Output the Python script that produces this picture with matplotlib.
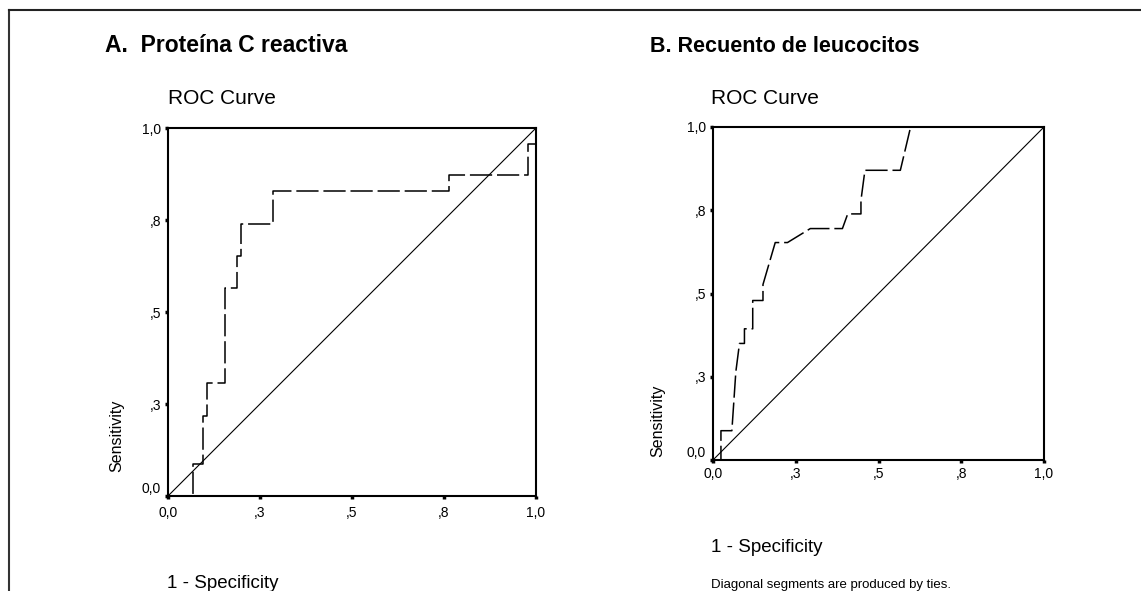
import matplotlib

matplotlib.use("Agg")
import matplotlib.pyplot as plt
from matplotlib.lines import Line2D

plt.rcParams["font.family"] = ["Liberation Sans", "DejaVu Sans"]
plt.rcParams["lines.scale_dashes"] = False

W, H = 1141, 591

# ROC curve A: Proteina C reactiva (1 - specificity, sensitivity)
fpr_a = [0.0, 0.069, 0.069, 0.095, 0.095, 0.107, 0.107, 0.155, 0.155, 0.188,
         0.188, 0.198, 0.198, 0.284, 0.284, 0.764, 0.764, 0.977, 0.977, 1.0, 1.0]
tpr_a = [0.0, 0.0, 0.088, 0.088, 0.217, 0.217, 0.306, 0.306, 0.564, 0.564,
         0.652, 0.652, 0.739, 0.739, 0.828, 0.828, 0.871, 0.871, 0.956, 0.956, 1.0]

# ROC curve B: Recuento de leucocitos
fpr_b = [0.0, 0.024, 0.024, 0.057, 0.069, 0.080, 0.095, 0.095, 0.120, 0.120,
         0.151, 0.151, 0.188, 0.225, 0.294, 0.391, 0.407, 0.447, 0.447, 0.459,
         0.566, 0.597, 1.0]
tpr_b = [0.0, 0.0, 0.088, 0.088, 0.265, 0.350, 0.350, 0.394, 0.394, 0.479,
         0.479, 0.527, 0.653, 0.653, 0.695, 0.695, 0.739, 0.739, 0.780, 0.870,
         0.870, 1.0, 1.0]

tick_values = [0.0, 0.25, 0.5, 0.75, 1.0]
tick_labels = ["0,0", ",3", ",5", ",8", "1,0"]


def px_axes(fig, x0, y0, x1, y1):
    return fig.add_axes([x0 / W, 1 - y1 / H, (x1 - x0) / W, (y1 - y0) / H])


def px_text(fig, x, y, s, **kw):
    return fig.text(x / W, 1 - y / H, s, **kw)


def draw_roc(ax, fpr, tpr, xpad):
    ax.plot([0, 1], [0, 1], color="black", linewidth=0.8)
    ax.plot(fpr, tpr, color="black", linewidth=1.1, dashes=(16, 3.5),
            solid_joinstyle="miter")
    ax.set_xlim(0, 1)
    ax.set_ylim(0, 1)
    ax.set_xticks(tick_values)
    ax.set_xticklabels(tick_labels)
    ax.set_yticks(tick_values)
    ax.set_yticklabels(tick_labels)
    ax.tick_params(direction="out", length=2, width=2.5, labelsize=10,
                   color="black", pad=3)
    ax.tick_params(axis="x", pad=xpad)
    ax.get_yticklabels()[0].set_verticalalignment("bottom")
    for spine in ax.spines.values():
        spine.set_linewidth(1.5)
    ax.margins(0)


fig = plt.figure(figsize=(W / 100, H / 100), dpi=100)

# outer frame (top and left edges)
fig.add_artist(Line2D([9 / W, 9 / W], [0, 1 - 10 / H], transform=fig.transFigure,
                      color="#333333", linewidth=1.5))
fig.add_artist(Line2D([9 / W, 1], [1 - 10 / H, 1 - 10 / H],
                      transform=fig.transFigure, color="#222222", linewidth=1.5))

ax_a = px_axes(fig, 168, 128, 536, 496)
draw_roc(ax_a, fpr_a, tpr_a, 5)
ax_b = px_axes(fig, 713, 127, 1044, 460)
draw_roc(ax_b, fpr_b, tpr_b, 3)

px_text(fig, 105, 46, "A.  Proteína C reactiva", fontsize=16.5, fontweight="bold",
        ha="left", va="center")
px_text(fig, 650, 46, "B. Recuento de leucocitos", fontsize=15.5, fontweight="bold",
        ha="left", va="center")
px_text(fig, 168, 98, "ROC Curve", fontsize=15, ha="left", va="center")
px_text(fig, 711, 98, "ROC Curve", fontsize=15, ha="left", va="center")

px_text(fig, 117, 472, "Sensitivity", fontsize=11.5, rotation=90,
        ha="center", va="bottom")
px_text(fig, 658, 457, "Sensitivity", fontsize=11.5, rotation=90,
        ha="center", va="bottom")

px_text(fig, 167, 583, "1 - Specificity", fontsize=13.5, ha="left", va="center")
px_text(fig, 711, 548, "1 - Specificity", fontsize=13.5, ha="left", va="center")
px_text(fig, 711, 585, "Diagonal segments are produced by ties.", fontsize=9.5,
        ha="left", va="center")

fig.savefig("out.png", dpi=100)
